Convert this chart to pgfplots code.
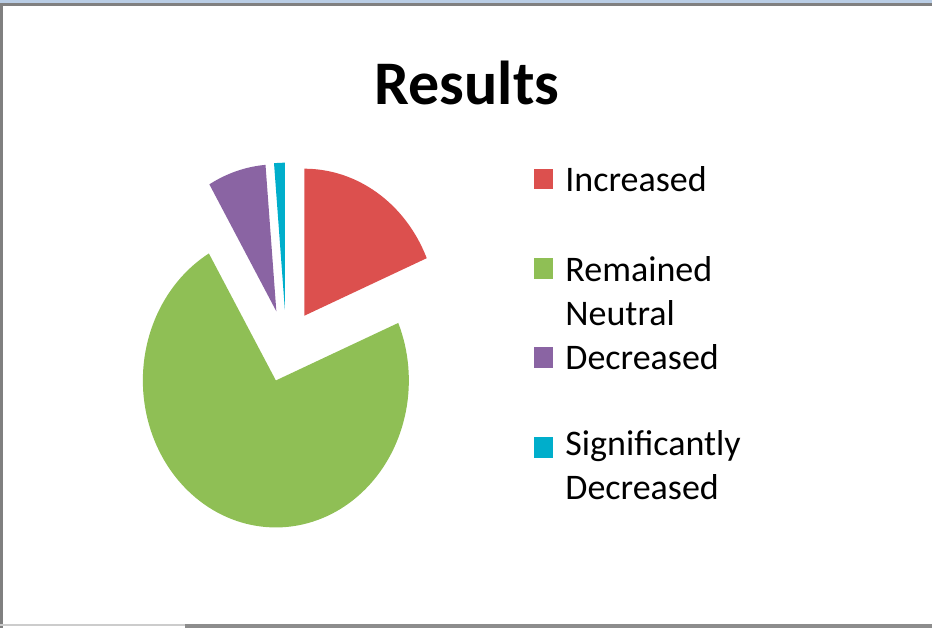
\documentclass[border=0pt]{standalone}
\usepackage{pgfplots}
\pgfplotsset{compat=1.18}
\usepackage{pgfplotstable}
\usepackage{fontspec}
\setmainfont{Carlito}

\definecolor{incr}{RGB}{220,80,78}
\definecolor{neut}{RGB}{143,191,85}
\definecolor{decr}{RGB}{138,100,163}
\definecolor{sdecr}{RGB}{0,174,203}
\definecolor{frameblue}{RGB}{185,205,229}
\definecolor{framegray}{RGB}{128,128,128}

% share of each answer (percent)
\pgfplotstableread{
label value
Increased 18.6
Neutral 73.0
Decreased 7.1
SigDecreased 1.3
}\results

% one exploded slice between two angles, pushed out along its middle
\newcommand\slice[3]{%
  \pgfmathsetmacro\mid{(#2+#3)/2}%
  \pgfmathsetmacro\ox{0.247*cos(\mid)}%
  \pgfmathsetmacro\oy{0.247*sin(\mid)}%
  \edef\doslice{\noexpand\addplot[fill=#1, draw=none, domain=#2:#3, samples=120, variable=\noexpand\t]
    ({\ox+cos(\noexpand\t)},{\oy+sin(\noexpand\t)}) -- (axis cs:\ox,\oy) -- cycle;}%
  \doslice}
\newcommand\px[2]{(rel axis cs:#1/932,1-#2/628)}

\begin{document}
\begin{tikzpicture}
\pgfplotstablegetelem{0}{value}\of\results \pgfmathsetmacro\va{\pgfplotsretval}
\pgfplotstablegetelem{1}{value}\of\results \pgfmathsetmacro\vb{\pgfplotsretval}
\pgfplotstablegetelem{2}{value}\of\results \pgfmathsetmacro\vc{\pgfplotsretval}
\pgfplotstablegetelem{3}{value}\of\results \pgfmathsetmacro\vd{\pgfplotsretval}
\pgfmathsetmacro\tot{\va+\vb+\vc+\vd}
\pgfmathsetmacro\aA{90}
\pgfmathsetmacro\aB{\aA-\va/\tot*360}
\pgfmathsetmacro\aC{\aB-\vb/\tot*360}
\pgfmathsetmacro\aD{\aC-\vc/\tot*360}
\pgfmathsetmacro\aE{\aD-\vd/\tot*360}
\begin{axis}[
  scale only axis,
  width=466pt, height=314pt,
  xmin=-2.1519, xmax=4.8556,
  ymin=-1.9184, ymax=2.3537,
  hide axis,
  clip=false,
]
\path \px{0}{0} rectangle \px{932}{628};
% frame
\fill[frameblue] \px{0}{0} rectangle \px{932}{3.5};
\fill[framegray] \px{0}{3.5} rectangle \px{932}{6.5};
\fill[framegray] \px{0}{3.5} rectangle \px{2.8}{628};
\fill[framegray!40] \px{0}{624.5} rectangle \px{185}{626.5};
\fill[framegray!90] \px{185}{624.5} rectangle \px{932}{628};

\slice{incr}{\aB}{\aA}
\slice{neut}{\aC}{\aB}
\slice{decr}{\aD}{\aC}
\slice{sdecr}{\aE}{\aD}

% title
\node[anchor=base, font=\fontsize{31}{36}\selectfont\bfseries, inner sep=0pt] at \px{467}{105} {Results};

% legend
\fill[incr]  \px{534}{169} rectangle \px{553}{189};
\fill[neut]  \px{534}{258} rectangle \px{553}{279};
\fill[decr]  \px{534}{347} rectangle \px{553}{368};
\fill[sdecr] \px{534}{437} rectangle \px{553}{458};
\begin{scope}[every node/.style={anchor=base west, inner sep=0pt, font=\fontsize{18}{22}\selectfont}]
\node at \px{565}{192} {Increased};
\node at \px{565}{282} {Remained};
\node at \px{565}{326} {Neutral};
\node at \px{565}{370} {Decreased};
\node at \px{565}{456} {Significantly};
\node at \px{565}{500} {Decreased};
\end{scope}
\end{axis}
\end{tikzpicture}
\end{document}
